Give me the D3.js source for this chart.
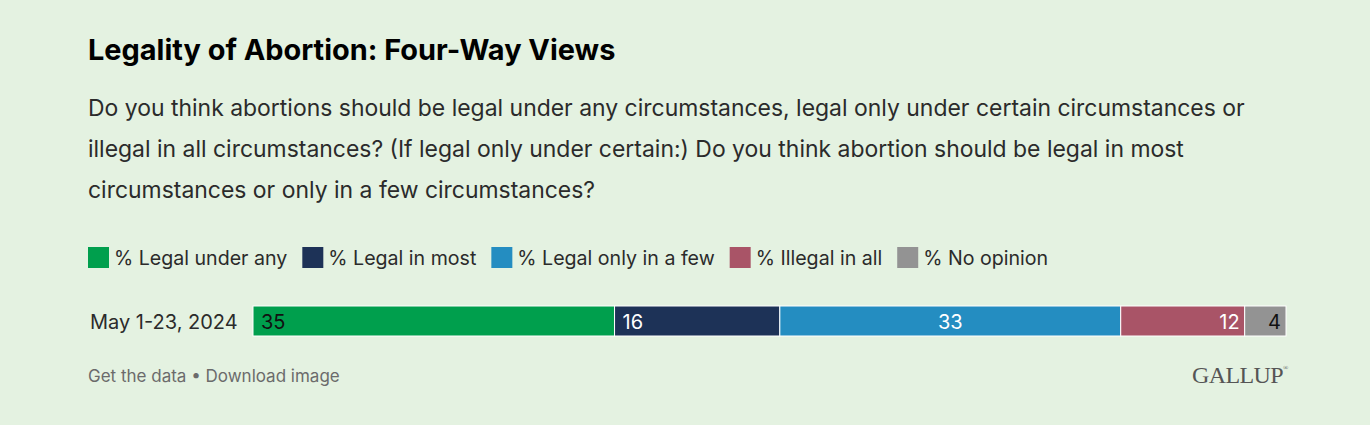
<!DOCTYPE html>
<html>
<head>
    <meta charset="UTF-8">
    <style>
        body { margin: 0; background: #e4f2e1; }
        svg text { font-family: Inter, "Noto Sans", sans-serif; }
    </style>
</head>
<body>
    <svg id="chart"></svg>
    <script src="https://d3js.org/d3.v7.min.js"></script>
    <script>
        let width = 1370, height = 425;

        // data
        const categories = ["% Legal under any", "% Legal in most", "% Legal only in a few", "% Illegal in all", "% No opinion"];
        const values = [35, 16, 33, 12, 4];
        const colors = ["#009f4d", "#1d3257", "#248dc1", "#a95467", "#939393"];
        const labelColors = ["#111", "#fff", "#fff", "#fff", "#111"];
        const labelAlign = ["start", "start", "middle", "end", "end"];
        const rowLabel = "May 1-23, 2024";
        const subtitleLines = [
            "Do you think abortions should be legal under any circumstances, legal only under certain circumstances or",
            "illegal in all circumstances? (If legal only under certain:) Do you think abortion should be legal in most",
            "circumstances or only in a few circumstances?"
        ];

        let svg = d3.select("#chart")
            .attr("width", width)
            .attr("height", height);

        svg.append("rect").attr("width", width).attr("height", height).attr("fill", "#e4f2e1");

        svg.append("text")
            .attr("x", 88).attr("y", 60)
            .attr("font-size", 28.9).attr("font-weight", 700).attr("fill", "#000")
            .text("Legality of Abortion: Four-Way Views");

        svg.append("g").selectAll("text")
            .data(subtitleLines)
            .enter().append("text")
            .attr("x", 88)
            .attr("y", (d, i) => 116 + i * 41)
            .attr("font-size", 22.95).attr("fill", "#2b2b2b")
            .text(d => d);

        // legend
        let legend = svg.append("g").attr("transform", "translate(88,247)");
        let lx = 0;
        categories.forEach((c, i) => {
            let g = legend.append("g").attr("transform", "translate(" + lx + ",0)");
            g.append("rect").attr("width", 21).attr("height", 21).attr("fill", colors[i]);
            let t = g.append("text").attr("x", 26).attr("y", 17.5)
                .attr("font-size", 19.6).attr("fill", "#2b2b2b").text(c);
            lx += 26 + t.node().getComputedTextLength() + 15;
        });

        // bar
        let x = d3.scaleLinear().domain([0, d3.sum(values)]).range([253, 1286]);
        let y = d3.scaleBand().domain([rowLabel]).range([306, 336]);

        let stacked = [];
        let acc = 0;
        values.forEach((v, i) => { stacked.push({ v: v, x0: acc, x1: acc + v, i: i }); acc += v; });

        svg.append("text")
            .attr("x", 90).attr("y", y(rowLabel) + y.bandwidth() / 2 + 7.5)
            .attr("font-size", 20).attr("fill", "#2b2b2b")
            .text(rowLabel);

        let bars = svg.append("g");
        bars.selectAll("rect")
            .data(stacked)
            .enter().append("rect")
            .attr("x", d => x(d.x0))
            .attr("y", y(rowLabel))
            .attr("width", d => x(d.x1) - x(d.x0))
            .attr("height", y.bandwidth())
            .attr("fill", d => colors[d.i])
            .attr("stroke", "#fff")
            .attr("stroke-width", 1);

        bars.selectAll("text")
            .data(stacked)
            .enter().append("text")
            .attr("x", d => {
                if (labelAlign[d.i] == "start") return x(d.x0) + 8;
                if (labelAlign[d.i] == "end") return x(d.x1) - 5;
                return (x(d.x0) + x(d.x1)) / 2;
            })
            .attr("y", y(rowLabel) + y.bandwidth() / 2 + 7.5)
            .attr("text-anchor", d => labelAlign[d.i])
            .attr("font-size", 20)
            .attr("fill", d => labelColors[d.i])
            .text(d => d.v);

        // footer
        svg.append("text")
            .attr("x", 88).attr("y", 382)
            .attr("font-size", 17).attr("fill", "#6b6b6b")
            .text("Get the data \u2022 Download image");

        svg.append("text")
            .attr("x", 1283).attr("y", 383)
            .attr("text-anchor", "end")
            .attr("font-size", 24)
            .style("font-family", "'Liberation Serif', 'DejaVu Serif', serif")
            .attr("fill", "#555")
            .attr("letter-spacing", -0.6)
            .text("GALLUP");
        svg.append("text")
            .attr("x", 1283).attr("y", 370)
            .attr("font-size", 7)
            .style("font-family", "'Liberation Serif', serif")
            .attr("fill", "#555")
            .text("\u00ae");
    </script>
</body>
</html>
